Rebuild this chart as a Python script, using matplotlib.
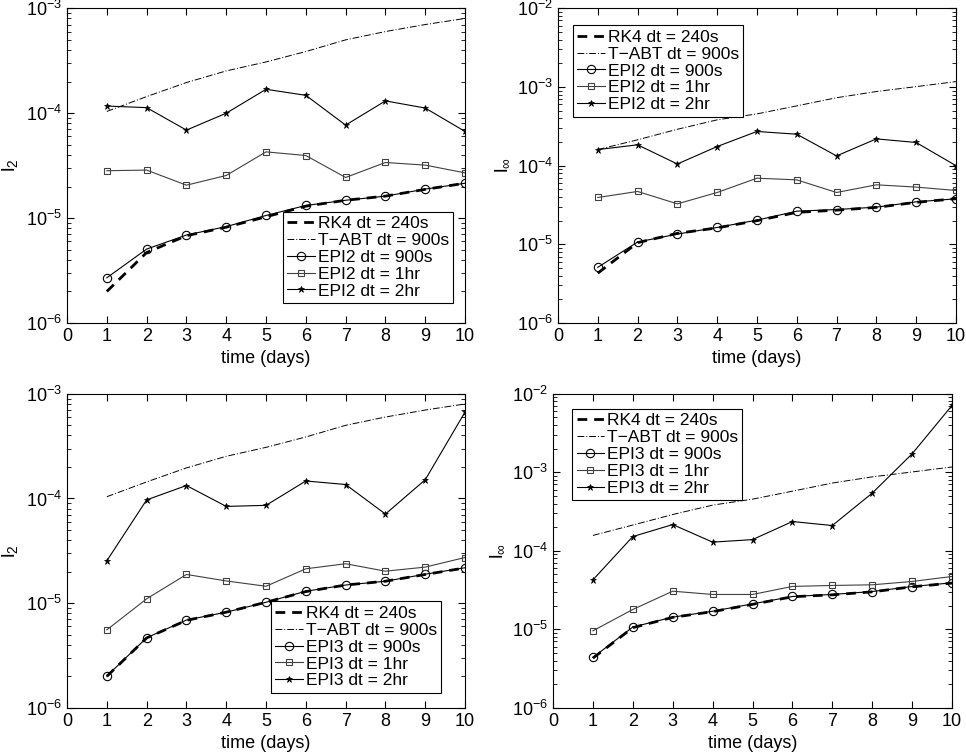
import numpy as np
import matplotlib
matplotlib.use("Agg")
import matplotlib.pyplot as plt
from matplotlib.ticker import LogLocator, NullFormatter

plt.rcParams['font.family'] = ['Liberation Sans', 'DejaVu Sans']
plt.rcParams['mathtext.fontset'] = 'custom'
plt.rcParams['mathtext.rm'] = 'Liberation Sans'
plt.rcParams['mathtext.default'] = 'regular'
plt.rcParams['font.size'] = 13

days = np.arange(1, 11)

# l2 error, EPI2
rk4_l2 = [2.0e-6, 4.7e-6, 6.8e-6, 8.2e-6, 1.03e-5, 1.30e-5, 1.48e-5, 1.62e-5, 1.88e-5, 2.15e-5]
tabt_l2 = [1.04e-4, 1.44e-4, 1.96e-4, 2.53e-4, 3.08e-4, 3.87e-4, 5.0e-4, 6.0e-4, 7.0e-4, 8.0e-4]
epi2_900_l2 = [2.7e-6, 5.07e-6, 6.9e-6, 8.3e-6, 1.06e-5, 1.32e-5, 1.48e-5, 1.62e-5, 1.89e-5, 2.15e-5]
epi2_1hr_l2 = [2.83e-5, 2.87e-5, 2.06e-5, 2.55e-5, 4.28e-5, 3.95e-5, 2.44e-5, 3.39e-5, 3.2e-5, 2.7e-5]
epi2_2hr_l2 = [1.17e-4, 1.13e-4, 6.9e-5, 1.0e-4, 1.69e-4, 1.48e-4, 7.7e-5, 1.31e-4, 1.12e-4, 6.7e-5]

# linf error, EPI2
rk4_li = [4.3e-6, 1.05e-5, 1.38e-5, 1.62e-5, 2.0e-5, 2.55e-5, 2.72e-5, 2.95e-5, 3.42e-5, 3.8e-5]
tabt_li = [1.6e-4, 2.13e-4, 2.9e-4, 3.82e-4, 4.55e-4, 5.75e-4, 7.3e-4, 8.75e-4, 1.01e-3, 1.17e-3]
epi2_900_li = [5.1e-6, 1.07e-5, 1.35e-5, 1.64e-5, 2.03e-5, 2.64e-5, 2.77e-5, 2.97e-5, 3.47e-5, 3.79e-5]
epi2_1hr_li = [3.94e-5, 4.7e-5, 3.27e-5, 4.56e-5, 6.93e-5, 6.6e-5, 4.56e-5, 5.71e-5, 5.34e-5, 4.84e-5]
epi2_2hr_li = [1.6e-4, 1.84e-4, 1.05e-4, 1.75e-4, 2.72e-4, 2.51e-4, 1.33e-4, 2.19e-4, 1.97e-4, 1.0e-4]

# l2 error, EPI3
rk4_l2_b = [2.0e-6, 4.65e-6, 6.85e-6, 8.2e-6, 1.02e-5, 1.29e-5, 1.49e-5, 1.62e-5, 1.88e-5, 2.17e-5]
epi3_900_l2 = [2.01e-6, 4.67e-6, 6.9e-6, 8.2e-6, 1.02e-5, 1.30e-5, 1.49e-5, 1.62e-5, 1.89e-5, 2.18e-5]
epi3_1hr_l2 = [5.56e-6, 1.1e-5, 1.88e-5, 1.63e-5, 1.45e-5, 2.13e-5, 2.38e-5, 2.02e-5, 2.21e-5, 2.73e-5]
epi3_2hr_l2 = [2.54e-5, 9.7e-5, 1.33e-4, 8.4e-5, 8.6e-5, 1.47e-4, 1.36e-4, 7.1e-5, 1.51e-4, 6.7e-4]

# linf error, EPI3
rk4_li_b = [4.3e-6, 1.05e-5, 1.42e-5, 1.68e-5, 2.08e-5, 2.6e-5, 2.75e-5, 3.0e-5, 3.48e-5, 3.88e-5]
tabt_li_b = [1.57e-4, 2.13e-4, 2.9e-4, 3.82e-4, 4.55e-4, 5.75e-4, 7.3e-4, 8.75e-4, 1.01e-3, 1.17e-3]
epi3_900_li = [4.38e-6, 1.07e-5, 1.43e-5, 1.70e-5, 2.11e-5, 2.62e-5, 2.78e-5, 3.03e-5, 3.51e-5, 3.91e-5]
epi3_1hr_li = [9.57e-6, 1.79e-5, 3.06e-5, 2.78e-5, 2.78e-5, 3.52e-5, 3.62e-5, 3.69e-5, 4.07e-5, 4.71e-5]
epi3_2hr_li = [4.27e-5, 1.52e-4, 2.16e-4, 1.29e-4, 1.39e-4, 2.36e-4, 2.1e-4, 5.43e-4, 1.72e-3, 7.1e-3]

panels = [
    dict(rect=[0.0694, 0.571, 0.412, 0.418], ylim=(1e-6, 1e-3), ylabel='l$_2$', method='EPI2',
         series=[rk4_l2, tabt_l2, epi2_900_l2, epi2_1hr_l2, epi2_2hr_l2],
         legloc='lower right', anchor=(0.970, 0.064)),
    dict(rect=[0.5776, 0.571, 0.412, 0.418], ylim=(1e-6, 1e-2), ylabel=r'l$_\infty$', method='EPI2',
         series=[rk4_li, tabt_li, epi2_900_li, epi2_1hr_li, epi2_2hr_li],
         legloc='upper left', anchor=(0.038, 0.946)),
    dict(rect=[0.0694, 0.060, 0.412, 0.417], ylim=(1e-6, 1e-3), ylabel='l$_2$', method='EPI3',
         series=[rk4_l2_b, tabt_l2, epi3_900_l2, epi3_1hr_l2, epi3_2hr_l2],
         legloc='lower right', anchor=(0.940, 0.048)),
    dict(rect=[0.5725, 0.060, 0.413, 0.417], ylim=(1e-6, 1e-2), ylabel=r'l$_\infty$', method='EPI3',
         series=[rk4_li_b, tabt_li_b, epi3_900_li, epi3_1hr_li, epi3_2hr_li],
         legloc='upper left', anchor=(0.048, 0.952)),
]

fig = plt.figure(figsize=(9.66, 7.53), dpi=100)

for p in panels:
    ax = fig.add_axes(p['rect'])
    rk4, tabt, s900, s1hr, s2hr = p['series']
    m = p['method']
    ax.plot(days, rk4, color='k', ls=(0, (3.5, 2.5)), lw=2.0, label='RK4 dt = 240s')
    ax.plot(days, tabt, color='k', ls=(0, (7, 2, 1, 2)), lw=0.7, label='T\u2212ABT dt = 900s')
    ax.plot(days, s900, color='k', lw=0.8, marker='o', ms=6, mfc='none', mew=0.8,
            label=m + ' dt = 900s')
    ax.plot(days, s1hr, color='0.25', lw=0.8, marker='s', ms=5, mfc='none', mew=0.8,
            label=m + ' dt = 1hr')
    ax.plot(days, s2hr, color='k', lw=0.8, marker='*', ms=5, mew=0.5,
            label=m + ' dt = 2hr')
    ax.set_yscale('log')
    ax.set_ylim(*p['ylim'])
    ax.set_xlim(0, 10)
    ax.set_xticks(range(0, 11))
    ax.yaxis.set_minor_locator(LogLocator(base=10, subs=np.arange(2, 10)))
    ax.yaxis.set_minor_formatter(NullFormatter())
    ax.tick_params(which='both', direction='in', top=True, right=True)
    ax.tick_params(which='major', length=5, labelsize=13)
    ax.tick_params(which='minor', length=3)
    ax.set_xlabel('time (days)', fontsize=13)
    ax.set_ylabel(p['ylabel'], fontsize=14)
    leg = ax.legend(loc=p['legloc'], bbox_to_anchor=p['anchor'], fontsize=12.5,
                    fancybox=False, framealpha=1, edgecolor='k', handlelength=1.6,
                    handletextpad=0.15, labelspacing=0.1, borderpad=0.25, borderaxespad=0)
    leg.get_frame().set_linewidth(0.8)

fig.savefig('out.png', dpi=100)
